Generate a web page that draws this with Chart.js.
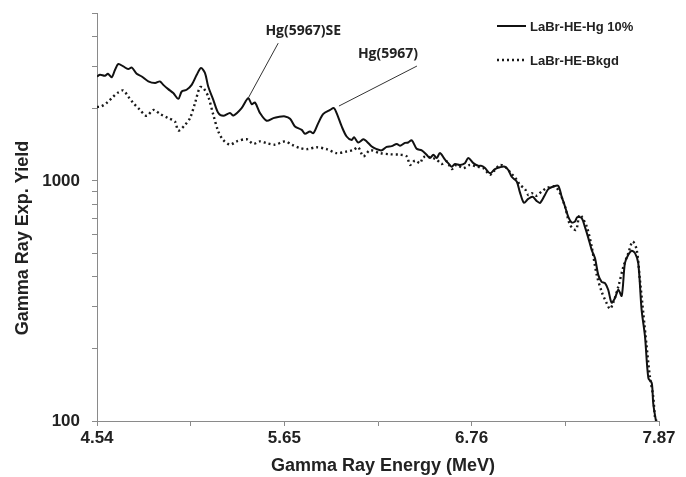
<!DOCTYPE html>
<html>
<head>
<meta charset="utf-8">
<script src="https://cdn.jsdelivr.net/npm/chart.js@4/dist/chart.umd.min.js"></script>
<style>
  html, body { margin: 0; padding: 0; background: #ffffff; }
  #wrap { width: 686px; height: 477px; }
</style>
</head>
<body>
<div id="wrap"><canvas id="c" width="686" height="477"></canvas></div>
<script>
// Gamma-ray spectra: Hg-doped sample vs. background (LaBr detector)
const seriesNames = ['LaBr-HE-Hg 10%', 'LaBr-HE-Bkgd'];

const hgEnergy = [4.540, 4.558, 4.587, 4.605, 4.627, 4.647, 4.666, 4.696, 4.725, 4.746,
  4.775, 4.805, 4.844, 4.884, 4.913, 4.933, 4.962, 4.992, 5.022, 5.042,
  5.071, 5.101, 5.131, 5.156, 5.180, 5.199, 5.229, 5.259, 5.288, 5.328,
  5.348, 5.397, 5.436, 5.457, 5.476, 5.506, 5.545, 5.585, 5.614, 5.654,
  5.684, 5.713, 5.753, 5.772, 5.802, 5.822, 5.851, 5.881, 5.921, 5.944,
  5.960, 5.990, 6.019, 6.049, 6.063, 6.088, 6.118, 6.138, 6.168, 6.197,
  6.227, 6.256, 6.286, 6.316, 6.335, 6.365, 6.384, 6.405, 6.434, 6.464,
  6.493, 6.513, 6.533, 6.553, 6.572, 6.602, 6.621, 6.642, 6.661, 6.691,
  6.720, 6.740, 6.770, 6.799, 6.819, 6.839, 6.869, 6.898, 6.928, 6.957,
  6.977, 6.997, 7.027, 7.046, 7.070, 7.095, 7.121, 7.145, 7.165, 7.194,
  7.214, 7.244, 7.273, 7.293, 7.313, 7.332, 7.353, 7.372, 7.386, 7.412,
  7.431, 7.451, 7.471, 7.491, 7.510, 7.530, 7.550, 7.569, 7.589, 7.609,
  7.629, 7.649, 7.668, 7.688, 7.708, 7.728, 7.747, 7.767, 7.787, 7.807,
  7.827, 7.836, 7.852];
const hgYield = [2720, 2765, 2740, 2790, 2700, 2900, 3065, 2995, 2920, 2965,
  2790, 2720, 2595, 2555, 2595, 2510, 2410, 2320, 2195, 2355,
  2395, 2510, 2765, 2950, 2810, 2470, 2175, 1915, 1865, 1915,
  1870, 2010, 2210, 2085, 2120, 1915, 1780, 1825, 1845, 1855,
  1815, 1685, 1630, 1570, 1605, 1580, 1740, 1900, 1975, 2010,
  1915, 1685, 1530, 1480, 1520, 1445, 1490, 1460, 1390, 1355,
  1340, 1385, 1395, 1425, 1400, 1440, 1445, 1475, 1360, 1340,
  1285, 1245, 1285, 1245, 1305, 1225, 1185, 1145, 1175, 1165,
  1185, 1245, 1185, 1155, 1155, 1130, 1075, 1120, 1140, 1145,
  1110, 1040, 993, 896, 810, 841, 858, 825, 810, 874,
  924, 947, 953, 860, 782, 710, 671, 677, 706, 699,
  643, 579, 516, 476, 406, 380, 375, 352, 311, 325,
  352, 332, 454, 492, 512, 500, 454, 290, 225, 151,
  144, 118, 100];

const bkgdEnergy = [4.540, 4.564, 4.597, 4.637, 4.666, 4.696, 4.725, 4.755, 4.795, 4.834,
  4.874, 4.913, 4.962, 5.002, 5.022, 5.061, 5.091, 5.121, 5.150, 5.170,
  5.199, 5.229, 5.259, 5.288, 5.328, 5.368, 5.427, 5.466, 5.506, 5.545,
  5.595, 5.654, 5.694, 5.743, 5.783, 5.842, 5.901, 5.960, 6.019, 6.059,
  6.088, 6.118, 6.158, 6.217, 6.276, 6.335, 6.375, 6.395, 6.424, 6.454,
  6.473, 6.513, 6.553, 6.582, 6.612, 6.642, 6.671, 6.710, 6.750, 6.790,
  6.829, 6.869, 6.898, 6.928, 6.957, 6.997, 7.027, 7.046, 7.076, 7.095,
  7.116, 7.141, 7.175, 7.204, 7.254, 7.283, 7.313, 7.343, 7.378, 7.398,
  7.412, 7.442, 7.471, 7.501, 7.530, 7.560, 7.580, 7.599, 7.629, 7.659,
  7.688, 7.714, 7.738, 7.757, 7.777, 7.797, 7.816, 7.836, 7.846, 7.855];
const bkgdYield = [2030, 2040, 2110, 2245, 2335, 2380, 2245, 2110, 1975, 1865,
  1975, 1900, 1825, 1765, 1620, 1710, 1825, 2110, 2455, 2435,
  2245, 1885, 1605, 1480, 1415, 1460, 1490, 1425, 1460, 1435,
  1415, 1460, 1415, 1370, 1355, 1380, 1355, 1305, 1325, 1345,
  1380, 1265, 1340, 1305, 1290, 1285, 1265, 1165, 1215, 1185,
  1255, 1255, 1225, 1175, 1205, 1120, 1165, 1130, 1165, 1145,
  1130, 1060, 1110, 1165, 1145, 1070, 1010, 963, 924, 874,
  889, 866, 903, 933, 947, 889, 782, 656, 625, 722,
  710, 645, 532, 406, 346, 309, 293, 311, 363, 439,
  500, 559, 516, 387, 281, 204, 153, 126, 104, 100];

const xTickValues = [4.54, 5.095, 5.65, 6.205, 6.76, 7.315, 7.87];
const xTickLabels = ['4.54', '', '5.65', '', '6.76', '', '7.87'];
const yTickValues = [100, 200, 300, 400, 500, 600, 700, 800, 900, 1000, 2000, 3000, 4000, 5000];
const yTickLabels = ['100', '', '', '', '', '', '', '', '', '1000', '', '', '', ''];

const xTitle = 'Gamma Ray Energy (MeV)';
const yTitle = 'Gamma Ray Exp. Yield';

// Peak callouts, anchored on the Hg spectrum
const peakLabels = ['Hg(5967)SE', 'Hg(5967)'];
const peakEnergy = [5.436, 5.944];
const peakYield = [2210, 2010];

// ---- styling / layout helpers ----
const INK = '#111111';
const AXIS = '#8a8a8a';
const boldSans = (size) => ({ family: '"Liberation Sans", Arial, sans-serif', size: size, weight: 'bold' });
// pixel offsets of each callout: line start, line end, text centre (relative to the peak)
const calloutGeometry = [
  { start: [0, 0], end: [30, -55], text: [55, -67] },
  { start: [5, -2], end: [83, -42], text: [54, -54] }
];

const toPoints = (xs, ys) => xs.map((x, i) => ({ x: x, y: ys[i] }));

const decorations = {
  id: 'decorations',
  afterDraw(chart) {
    const ctx = chart.ctx;
    const xs = chart.scales.x, ys = chart.scales.y;
    ctx.save();

    // axis titles
    ctx.fillStyle = '#222';
    ctx.font = 'bold 18px "Liberation Sans", Arial, sans-serif';
    ctx.textAlign = 'center';
    ctx.textBaseline = 'middle';
    ctx.fillText(xTitle, 383, 466);
    ctx.save();
    ctx.translate(23, 238);
    ctx.rotate(-Math.PI / 2);
    ctx.fillText(yTitle, 0, 0);
    ctx.restore();

    // legend
    const legendX = 497, legendW = 29, rows = [26, 60];
    chart.data.datasets.forEach((ds, i) => {
      ctx.save();
      ctx.strokeStyle = ds.borderColor;
      ctx.lineWidth = ds.borderWidth;
      ctx.setLineDash(ds.borderDash || []);
      ctx.beginPath();
      ctx.moveTo(legendX, rows[i]);
      ctx.lineTo(legendX + legendW, rows[i]);
      ctx.stroke();
      ctx.restore();
      ctx.fillStyle = '#222';
      ctx.font = 'bold 13px "Liberation Sans", Arial, sans-serif';
      ctx.textAlign = 'left';
      ctx.textBaseline = 'middle';
      ctx.fillText(ds.label, legendX + legendW + 4, rows[i] + 1);
    });

    // peak callouts
    peakLabels.forEach((txt, i) => {
      const px = xs.getPixelForValue(peakEnergy[i]);
      const py = ys.getPixelForValue(peakYield[i]);
      const g = calloutGeometry[i];
      ctx.strokeStyle = '#333';
      ctx.lineWidth = 1;
      ctx.setLineDash([]);
      ctx.beginPath();
      ctx.moveTo(px + g.start[0], py + g.start[1]);
      ctx.lineTo(px + g.end[0], py + g.end[1]);
      ctx.stroke();
      ctx.fillStyle = '#222';
      ctx.font = 'bold 14px "Open Sans", "Noto Sans", sans-serif';
      ctx.textAlign = 'center';
      ctx.textBaseline = 'middle';
      ctx.fillText(txt, px + g.text[0], py + g.text[1]);
    });
    ctx.restore();
  }
};

new Chart(document.getElementById('c'), {
  type: 'line',
  data: {
    datasets: [
      {
        label: seriesNames[0],
        data: toPoints(hgEnergy, hgYield),
        borderColor: INK,
        borderWidth: 2,
        pointRadius: 0,
        tension: 0.3,
        fill: false
      },
      {
        label: seriesNames[1],
        data: toPoints(bkgdEnergy, bkgdYield),
        borderColor: '#1a1a1a',
        borderWidth: 2.4,
        borderDash: [2, 3],
        borderCapStyle: 'butt',
        pointRadius: 0,
        tension: 0.3,
        fill: false
      }
    ]
  },
  options: {
    responsive: false,
    animation: false,
    devicePixelRatio: 1,
    layout: { padding: { top: 13, right: 27, left: 0, bottom: 0 } },
    plugins: { legend: { display: false }, tooltip: { enabled: false } },
    scales: {
      x: {
        type: 'linear',
        min: 4.54,
        max: 7.87,
        afterBuildTicks: (s) => { s.ticks = xTickValues.map(v => ({ value: v })); },
        afterFit: (s) => { s.height = 56; },
        ticks: {
          autoSkip: false,
          maxRotation: 0,
          padding: 2,
          color: '#222',
          font: boldSans(17),
          callback: (v, i) => xTickLabels[i]
        },
        grid: { drawOnChartArea: false, drawTicks: true, tickLength: 5, color: AXIS },
        border: { color: AXIS, width: 1 }
      },
      y: {
        type: 'logarithmic',
        min: 100,
        max: 5000,
        afterBuildTicks: (s) => { s.ticks = yTickValues.map(v => ({ value: v })); },
        afterFit: (s) => { s.width = 97; s.paddingTop = 0; s.paddingBottom = 0; },
        ticks: {
          autoSkip: false,
          padding: 12,
          color: '#222',
          font: boldSans(17),
          callback: (v, i) => yTickLabels[i]
        },
        grid: { drawOnChartArea: false, drawTicks: true, tickLength: 5, color: AXIS },
        border: { color: AXIS, width: 1 }
      }
    }
  },
  plugins: [decorations]
});
</script>
</body>
</html>
